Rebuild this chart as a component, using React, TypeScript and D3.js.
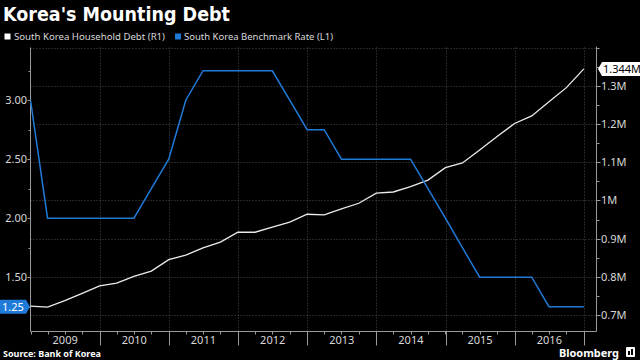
import React from 'react';
import * as d3 from 'd3';

const quarterDates = [
  '2008-12-31',
  '2009-03-31', '2009-06-30', '2009-09-30', '2009-12-31',
  '2010-03-31', '2010-06-30', '2010-09-30', '2010-12-31',
  '2011-03-31', '2011-06-30', '2011-09-30', '2011-12-31',
  '2012-03-31', '2012-06-30', '2012-09-30', '2012-12-31',
  '2013-03-31', '2013-06-30', '2013-09-30', '2013-12-31',
  '2014-03-31', '2014-06-30', '2014-09-30', '2014-12-31',
  '2015-03-31', '2015-06-30', '2015-09-30', '2015-12-31',
  '2016-03-31', '2016-06-30', '2016-09-30', '2016-12-31',
];

// South Korea household debt (millions, R1)
const householdDebt = [
  0.7235,
  0.721, 0.738, 0.757, 0.7765,
  0.7835, 0.801, 0.815, 0.845,
  0.857, 0.876, 0.891, 0.9167,
  0.9167, 0.93, 0.943, 0.9637,
  0.962, 0.978, 0.9925, 1.019,
  1.022, 1.036, 1.053, 1.0855,
  1.098, 1.132, 1.167, 1.2013,
  1.221, 1.2578, 1.295, 1.344,
];

// South Korea benchmark rate (%, L1)
const benchmarkRate = [
  3.0,
  2.0, 2.0, 2.0, 2.0,
  2.0, 2.0, 2.25, 2.5,
  3.0, 3.25, 3.25, 3.25,
  3.25, 3.25, 3.0, 2.75,
  2.75, 2.5, 2.5, 2.5,
  2.5, 2.5, 2.25, 2.0,
  1.75, 1.5, 1.5, 1.5,
  1.5, 1.25, 1.25, 1.25,
];

const yearLabels = [2009, 2010, 2011, 2012, 2013, 2014, 2015, 2016];
const leftTicks = [1.5, 2.0, 2.5, 3.0];
const leftMinorTicks = [1.25, 1.75, 2.25, 2.75, 3.25];
const rightTicks = [0.7, 0.8, 0.9, 1.0, 1.1, 1.2, 1.3];
const rightMinorTicks = [0.75, 0.85, 0.95, 1.05, 1.15, 1.25, 1.35, 1.4];

const BLUE = '#1f7ad8';
const TXT = '#d8d8d8';
const AXIS = '#9a9a9a';
const GRID = '#4a4a4a';
const FONT = '"Noto Sans", "DejaVu Sans", sans-serif';

export default function App() {
  const W = 640, H = 360;
  const left = 30.5, right = 596.5, top = 47.5, bottom = 331.5;
  const parse = d3.timeParse('%Y-%m-%d');
  const dates = quarterDates.map((s) => parse(s) as Date);

  const x = d3.scaleTime()
    .domain([new Date(2008, 11, 31), new Date(2017, 2, 8)])
    .range([left, right]);
  const yL = d3.scaleLinear().domain([1.04, 3.447]).range([bottom, top]);
  const yR = d3.scaleLinear().domain([0.657, 1.4]).range([bottom, top]);

  const debtLine = d3.line<number>()
    .x((_, i) => x(dates[i]))
    .y((d) => yR(d))(householdDebt) as string;
  const rateLine = d3.line<number>()
    .x((_, i) => x(dates[i]))
    .y((d) => yL(d))(benchmarkRate) as string;

  const yearStarts = yearLabels.map((y) => x(new Date(y + 1, 0, 1)));
  const yearMids = yearLabels.map((y) => x(new Date(y, 6, 2)));

  const lastRate = benchmarkRate[benchmarkRate.length - 1];
  const lastDebt = householdDebt[householdDebt.length - 1];
  const yRateLbl = yL(lastRate);
  const yDebtLbl = yR(lastDebt);

  return (
    <svg width={W} height={H} style={{ position: 'fixed', left: 0, top: 0, background: '#000' }}
      fontFamily={FONT}>
      <rect x={0} y={0} width={W} height={H} fill="#000" />
      <text x={3} y={21} fill="#fff" fontSize={20} fontWeight="bold"
        fontFamily='"DejaVu Sans", sans-serif' textLength={227} lengthAdjust="spacingAndGlyphs">
        Korea's Mounting Debt
      </text>

      {/* legend */}
      <rect x={4.5} y={33.5} width={6} height={6} fill="#fff" />
      <text x={14} y={40} fill={TXT} fontSize={9.5} textLength={151} lengthAdjust="spacingAndGlyphs">
        South Korea Household Debt (R1)
      </text>
      <rect x={175} y={33.5} width={6} height={6} fill={BLUE} />
      <text x={184} y={40} fill={TXT} fontSize={9.5} textLength={149} lengthAdjust="spacingAndGlyphs">
        South Korea Benchmark Rate (L1)
      </text>

      {/* grid */}
      <g stroke={GRID} strokeWidth={1} strokeDasharray="1,2">
        {[...rightTicks, 1.4].map((v) => (
          <line key={'h' + v} x1={left} x2={right} y1={Math.round(yR(v)) + 0.5} y2={Math.round(yR(v)) + 0.5} />
        ))}
        {yearStarts.map((xx, i) => (
          <line key={'v' + i} x1={Math.round(xx) + 0.5} x2={Math.round(xx) + 0.5} y1={top} y2={bottom} />
        ))}
      </g>

      {/* axes */}
      <g stroke={AXIS} strokeWidth={1}>
        <line x1={left} x2={left} y1={top} y2={bottom} />
        <line x1={right} x2={right} y1={top - 1} y2={bottom} />
        <line x1={left} x2={right} y1={bottom} y2={bottom} />
        {leftTicks.map((v) => (
          <line key={'lt' + v} x1={left - 3} x2={left} y1={Math.round(yL(v)) + 0.5} y2={Math.round(yL(v)) + 0.5} />
        ))}
        {leftMinorTicks.map((v) => (
          <line key={'lm' + v} x1={left - 2} x2={left} y1={Math.round(yL(v)) + 0.5} y2={Math.round(yL(v)) + 0.5} />
        ))}
        {rightTicks.map((v) => (
          <line key={'rt' + v} x1={right} x2={right + 4} y1={Math.round(yR(v)) + 0.5} y2={Math.round(yR(v)) + 0.5} />
        ))}
        {rightMinorTicks.map((v) => (
          <line key={'rm' + v} x1={right} x2={right + 3} y1={Math.round(yR(v)) + 0.5} y2={Math.round(yR(v)) + 0.5} />
        ))}
        {yearStarts.map((xx, i) => (
          <line key={'yt' + i} x1={Math.round(xx) + 0.5} x2={Math.round(xx) + 0.5} y1={bottom} y2={bottom + 14} />
        ))}
        {dates.map((d, i) => (
          <line key={'qt' + i} x1={Math.round(x(d)) + 0.5} x2={Math.round(x(d)) + 0.5} y1={bottom} y2={bottom + 3} />
        ))}
      </g>

      {/* tick labels */}
      {leftTicks.map((v) => (
        <text key={'ll' + v} x={27} y={yL(v) + 4} fill={TXT} fontSize={11} textAnchor="end">
          {v.toFixed(2)}
        </text>
      ))}
      {rightTicks.map((v) => (
        <text key={'rl' + v} x={601} y={yR(v) + 4} fill={TXT} fontSize={11}>
          {(Math.round(v * 10) / 10).toString() + 'M'}
        </text>
      ))}
      {yearLabels.map((y, i) => (
        <text key={'yl' + y} x={yearMids[i]} y={344} fill={TXT} fontSize={11} textAnchor="middle">
          {y}
        </text>
      ))}

      {/* series */}
      <path d={debtLine} fill="none" stroke="#ececec" strokeWidth={1.3} />
      <path d={rateLine} fill="none" stroke={BLUE} strokeWidth={1.5} />

      {/* last value labels */}
      <path d={`M0,${yRateLbl - 7}H26L30,${yRateLbl}L26,${yRateLbl + 7}H0Z`} fill={BLUE} />
      <text x={2} y={yRateLbl + 4} fill="#fff" fontSize={11}>{lastRate.toFixed(2)}</text>
      <path d={`M602,${yDebtLbl - 7}H640V${yDebtLbl + 7}H602L598,${yDebtLbl}Z`} fill="#fff" />
      <text x={603} y={yDebtLbl + 4} fill="#000" fontSize={11}>{lastDebt.toFixed(3) + 'M'}</text>

      {/* footer */}
      <text x={3} y={357} fill="#fff" fontSize={9} fontWeight="bold">Source: Bank of Korea</text>
      <text x={559} y={357} fill="#fff" fontSize={11} fontWeight="bold" textLength={60} lengthAdjust="spacingAndGlyphs">Bloomberg</text>
      <rect x={626} y={347} width={9} height={10} fill="#fff" rx={1} />
      <rect x={628} y={351} width={2} height={4} fill="#000" />
      <rect x={631} y={349} width={2} height={6} fill="#000" />
    </svg>
  );
}
